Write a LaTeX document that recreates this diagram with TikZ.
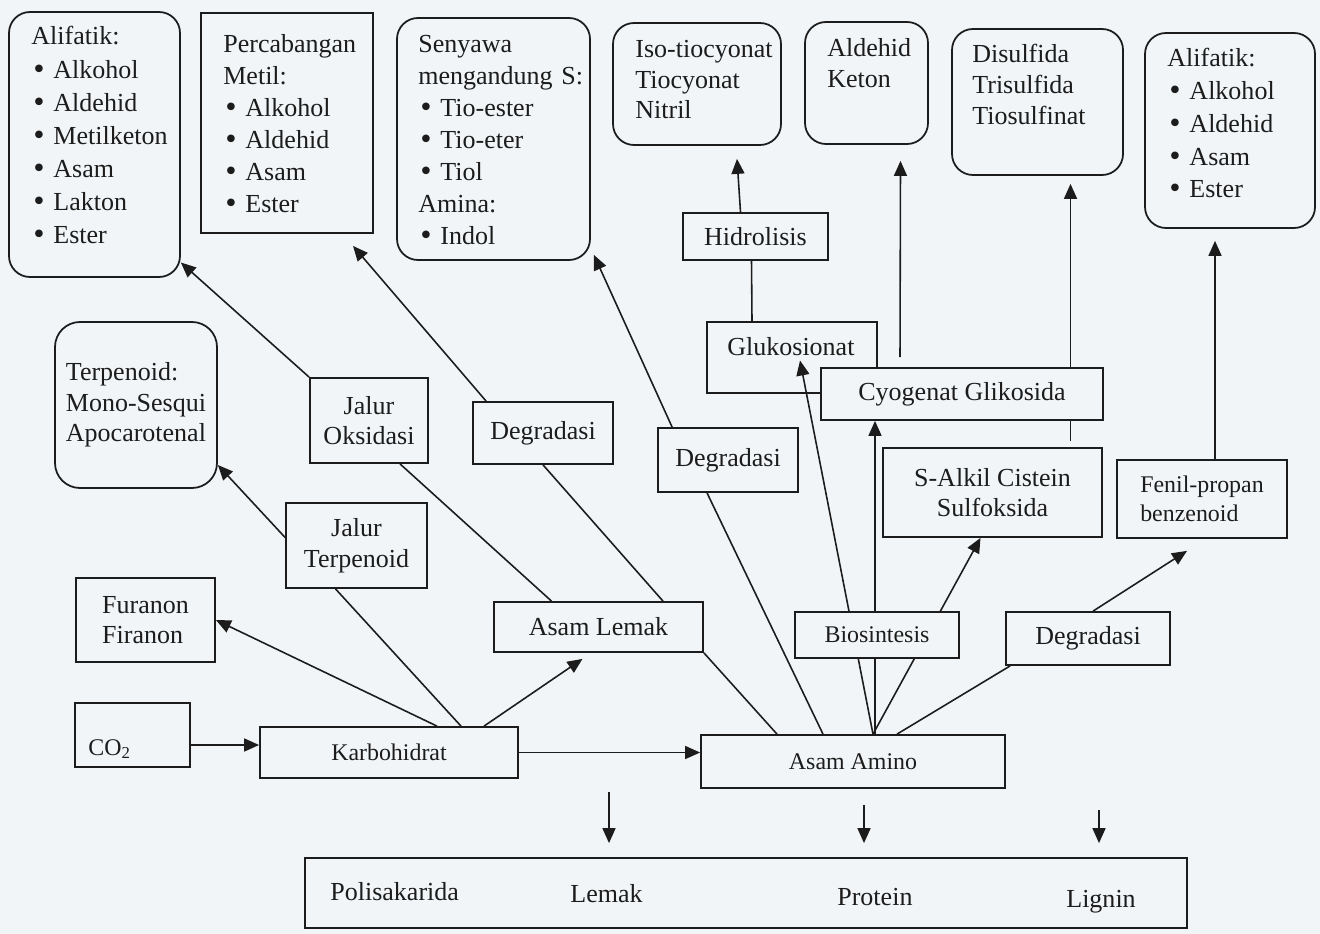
\documentclass[tikz,border=0pt]{standalone}
\usepackage{fontspec}
\setmainfont{Liberation Serif}
\newfontfamily\dejavu{DejaVu Sans}
\usepackage{tikz}
\usetikzlibrary{arrows.meta,calc}
\definecolor{paper}{RGB}{242,245,247}
\definecolor{ink}{RGB}{28,28,28}
\newcommand{\bul}{\makebox[0.85em][l]{{\dejavu\char"2022}}}
\newcommand{\bigtxt}{\fontsize{14.8}{17.4}\selectfont}
\newcommand{\smalltxt}{\fontsize{13.6}{16.5}\selectfont}
\begin{document}
\begin{tikzpicture}[x=0.2mm, y=-0.2mm,
  box/.style={draw=ink, fill=paper, line width=1pt, inner sep=0pt, text=ink, font=\bigtxt, align=center},
  rbox/.style={box, rounded corners=0.42cm},
  sz/.style 2 args={minimum width=#1*0.2mm, minimum height=#2*0.2mm},
  txt/.style={inner sep=0pt, anchor=base west, align=left, text width=4cm, text=ink, font=\fontsize{14.8}{#1}\selectfont},
  txt/.default=18.2,
  arr/.style={draw=ink, line width=0.9pt, -{Triangle[length=0.3cm, width=0.26cm]}},
  ln/.style={draw=ink, line width=0.9pt}]
    \path[use as bounding box, fill=paper] (0,0) rectangle (1320,934);
    \node[rbox, sz={171}{265}] (alif) at (94.5,144.5) {};
    \node[box, sz={172}{220}] (cabang) at (287,123) {};
    \node[rbox, sz={193}{242}] (sulfur) at (493.5,139) {};
    \node[rbox, sz={168}{122}] (iso) at (697,84) {};
    \node[rbox, sz={123}{122}] (aldket) at (866.5,83) {};
    \node[rbox, sz={171}{146}] (disulf) at (1037.5,102) {};
    \node[rbox, sz={170}{195}] (alif2) at (1230,130.5) {};
    \node[box, sz={145}{47}] (hidro) at (755.5,236.5) {Hidrolisis};
    \node[rbox, sz={162}{166}, align=left, rounded corners=0.5cm] (terpen) at (136,405) {Terpenoid:\\Mono-Sesqui\\Apocarotenal};
    \node[box, sz={118}{85}] (oksi) at (369,420.5) {Jalur\\Oksidasi};
    \node[box, sz={141}{85}] (jterp) at (356.5,545.5) {Jalur\\Terpenoid};
    \node[box, sz={139}{84}, align=left] (furan) at (145.5,620) {Furanon\\Firanon};
    \node[box, sz={115}{64}] (co2) at (132.5,735) {};
    \node[box, sz={258}{51}, font=\smalltxt] (karbo) at (389,752.5) {Karbohidrat};
    \node[box, sz={140}{62}] (degA) at (543,433) {Degradasi};
    \node[box, sz={140}{64}] (degB) at (728,460) {Degradasi};
    \node[box, sz={209}{50}] (lemak) at (598.5,627) {Asam Lemak};
    \node[box, sz={170}{71}] (gluko) at (792,357.5) {};
    \node[box, sz={219}{89}] (salkil) at (992.5,492.5) {S-Alkil Cistein\\Sulfoksida};
    \node[box, sz={170}{78}, align=left, font=\smalltxt] (fenil) at (1202,499) {Fenil-propan\\benzenoid};
    \node[box, sz={164}{53}] (degC) at (1088,638.5) {Degradasi};
    \node[box, sz={304}{53}, font=\smalltxt] (amino) at (853,761.5) {Asam Amino};
    \node[box, sz={882}{70}] (hasil) at (746,893) {};

    \node[txt=18.8] (aliftx) at (31,45) {Alifatik:\\\bul Alkohol\\\bul Aldehid\\\bul Metilketon\\\bul Asam\\\bul Lakton\\\bul Ester};
    \node[txt] (cabangtx) at (223,53) {Percabangan\\Metil:\\\bul Alkohol\\\bul Aldehid\\\bul Asam\\\bul Ester};
    \node[txt] (sulfurtx) at (418,53) {Senyawa\\mengandung S:\\\bul Tio-ester\\\bul Tio-eter\\\bul Tiol\\Amina:\\\bul Indol};
    \node[txt=17.1] (isotx) at (635,58) {Iso-tiocyonat\\Tiocyonat\\Nitril};
    \node[txt=17.6] (aldkettx) at (827,57) {Aldehid\\Keton};
    \node[txt=17.6] (disulftx) at (972,63) {Disulfida\\Trisulfida\\Tiosulfinat};
    \node[txt=18.6] (alif2tx) at (1167,67) {Alifatik:\\\bul Alkohol\\\bul Aldehid\\\bul Asam\\\bul Ester};
    \node[txt] (glukotx) at (727,355) {Glukosionat};
    \node[txt, font=\smalltxt] (co2tx) at (88,755) {CO\textsubscript{2}};
    \node[txt] (poli) at (330,900) {Polisakarida};
    \node[txt] (lemk) at (570,902) {Lemak};
    \node[txt] (prot) at (837,905) {Protein};
    \node[txt] (lign) at (1066,907) {Lignin};

    \coordinate (d1) at (609,792);
    \coordinate (d2) at (864,805);
    \coordinate (d3) at (1099,810);

    \draw[arr] ($(co2.east)+(0,10)$) -- ($(co2.east -| karbo.west)+(0,10)$);
    \draw[arr] (karbo.east) -- (karbo.east -| amino.west);
    \draw[arr] ($(karbo.north)+(48,0)$) -- (furan.east);
    \draw[ln] ($(karbo.north)+(72,0)$) -- ($(jterp.south)+(-21,0)$);
    \draw[arr] ($(jterp.west)+(0,-8)$) -- ($(terpen.east)+(0,60)$);
    \draw[arr] ($(karbo.north)+(95,0)$) -- ($(lemak.south)+(-16,6)$);
    \draw[arr] (oksi.north west) -- ($(alif.east)+(0,118)$);
    \draw[ln] ($(lemak.north)+(-47,0)$) -- ($(oksi.south)+(31,0)$);
    \draw[arr] ($(degA.north west)+(14,0)$) -- ($(cabang.south)+(66,12)$);
    \draw[ln] ($(lemak.north)+(64.5,0)$) -- (degA.south);
    \draw[arr] ($(degB.north west)+(15,0)$) -- ($(sulfur.south east)+(3,-6)$);
    \draw[ln] ($(amino.north)+(-30,0)$) -- ($(degB.south)+(-21,0)$);
    \draw[ln] (lemak.south east) -- ($(amino.north)+(-76,0)$);
    \draw[arr] ($(amino.north)+(20,0)$) -- ($(gluko.center)+(8,3)$);
    \draw[arr] ($(amino.north)+(20,0)$) -- ($(salkil.south)+(-12,0)$);
    \draw[ln] ($(amino.north)+(44,0)$) -- ($(degC.south west)+(5,0)$);
    \draw[arr] ($(degC.north)+(5,0)$) -- ($(fenil.south)+(-15,12)$);
    \draw[ln] ($(gluko.north)+(-40,0)$) -- ($(hidro.south)+(-4,0)$);
    \draw[arr] ($(hidro.north)+(-15,0)$) -- ($(iso.south)+(40,13)$);
    \draw[arr] ($(salkil.north)+(78,-6)$) -- ($(disulf.south)+(33,8)$);
    \draw[arr] ($(fenil.north)+(13,0)$) -- ($(alif2.south)+(-15,12)$);
    \draw[arr, shorten >=0.28cm] (d1) -- (d1 |- hasil.north);
    \draw[arr, shorten >=0.28cm] (d2) -- (d2 |- hasil.north);
    \draw[arr, shorten >=0.28cm] (d3) -- (d3 |- hasil.north);

    \node[box, sz={282}{52}] (cyo) at (962,394) {Cyogenat Glikosida};
    \draw[arr] ($(amino.north)+(22,0)$) -- ($(cyo.south)+(-87,0)$);
    \draw[arr] ($(cyo.north)+(-62,-10)$) -- ($(aldket.south)+(34,16)$);

    \node[box, sz={164}{46}, font=\smalltxt] (bios) at (877,635) {Biosintesis};
\end{tikzpicture}
\end{document}
